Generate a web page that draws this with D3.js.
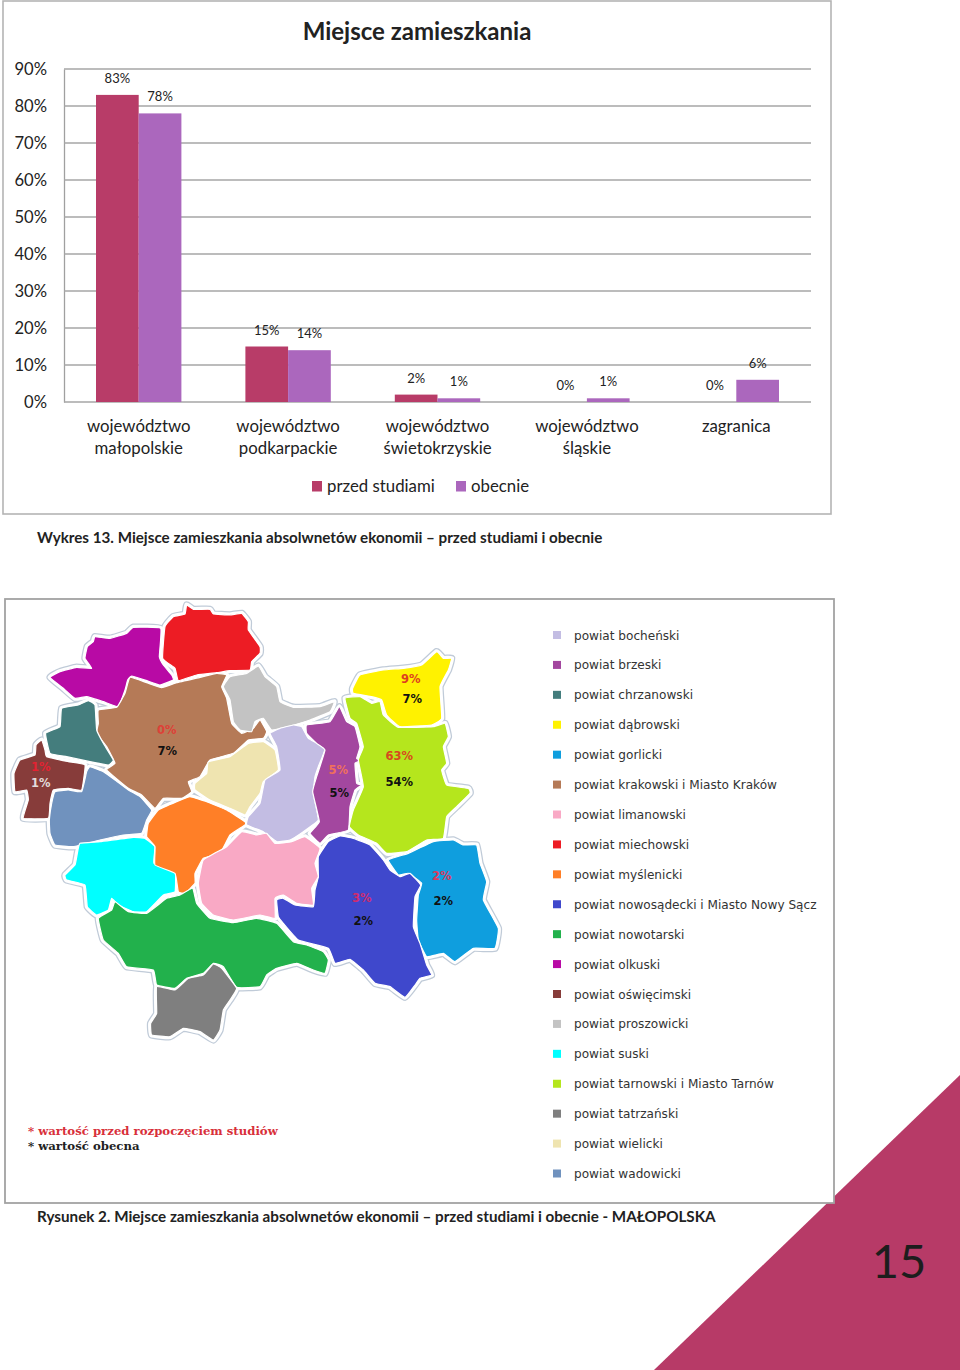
<!DOCTYPE html>
<html>
<head>
<meta charset="utf-8">
<script src="https://cdnjs.cloudflare.com/ajax/libs/d3/7.8.5/d3.min.js"></script>
<style>
  html, body { margin: 0; padding: 0; background: #fff; }
  svg { display: block; }
  text { font-family: Lato, sans-serif; fill: #222; }
</style>
</head>
<body>
<svg id="page" width="960" height="1370"></svg>
<script>
// bar chart
const categories = [["województwo", "małopolskie"], ["województwo", "podkarpackie"], ["województwo", "świetokrzyskie"], ["województwo", "śląskie"], ["zagranica"]];
const seriesNames = ["przed studiami", "obecnie"];
const przedStudiami = [83, 15, 2, 0, 0];
const obecnie = [78, 14, 1, 1, 6];
const yTicks = [0, 10, 20, 30, 40, 50, 60, 70, 80, 90];

// map legend + values
const powiaty = ["bocheński", "brzeski", "chrzanowski", "dąbrowski", "gorlicki", "krakowski i Miasto Kraków", "limanowski", "miechowski", "myślenicki", "nowosądecki i Miasto Nowy Sącz", "nowotarski", "olkuski", "oświęcimski", "proszowicki", "suski", "tarnowski i Miasto Tarnów", "tatrzański", "wielicki", "wadowicki"];
const mapPowiaty = ["krakowski i Miasto Kraków", "dąbrowski", "tarnowski i Miasto Tarnów", "brzeski", "oświęcimski", "gorlicki", "nowosądecki i Miasto Nowy Sącz"];
const mapPrzed = [0, 9, 63, 5, 1, 2, 3];
const mapObecnie = [7, 7, 54, 5, 1, 2, 2];

// outlines, in map units
const outlines = {
  "miechowski": [[560,45],[580,58],[630,58],[640,72],[690,75],[725,70],[745,95],[745,120],[780,170],[780,190],[755,215],[750,240],[690,242],[650,248],[590,255],[535,272],[525,235],[488,205],[495,110],[520,80],[555,72]],
  "olkuski": [[285,140],[330,145],[380,130],[400,112],[482,115],[478,200],[490,225],[515,255],[520,270],[480,285],[440,272],[395,258],[383,270],[375,300],[355,350],[310,335],[260,320],[225,325],[190,295],[150,262],[180,245],[230,232],[275,235],[255,205],[262,170],[280,155]],
  "krakowski i Miasto Kraków": [[390,262],[440,278],[485,293],[530,278],[600,262],[650,250],[680,255],[665,290],[680,325],[695,400],[725,430],[760,415],[780,390],[800,425],[790,445],[745,450],[700,490],[630,510],[600,560],[565,575],[575,605],[545,625],[490,625],[465,655],[425,615],[385,595],[320,540],[345,520],[320,470],[290,430],[295,400],[295,360],[350,352],[375,310]],
  "proszowicki": [[775,228],[795,260],[830,290],[840,335],[880,352],[960,350],[1003,335],[990,365],[930,390],[870,408],[815,420],[790,385],[765,395],[755,425],[720,420],[700,395],[690,330],[670,290],[690,260],[740,250]],
  "chrzanowski": [[265,332],[285,345],[290,420],[310,460],[340,510],[325,525],[270,515],[200,500],[150,490],[137,430],[180,410],[185,355],[235,345]],
  "oświęcimski": [[125,450],[135,480],[140,500],[205,515],[255,525],[245,600],[205,595],[160,600],[150,640],[145,685],[70,685],[85,630],[80,600],[45,605],[42,550],[60,510],[105,495],[108,465]],
  "wadowicki": [[270,530],[310,545],[345,570],[385,600],[420,620],[455,660],[440,690],[425,730],[370,735],[300,750],[220,770],[165,765],[150,730],[148,690],[155,640],[165,605],[205,600],[245,605],[260,545]],
  "suski": [[240,760],[300,755],[400,742],[435,745],[465,770],[462,820],[525,840],[525,905],[490,915],[440,965],[400,965],[355,945],[335,925],[325,960],[290,975],[262,950],[255,885],[200,870],[195,855],[225,825],[232,790]],
  "myślenicki": [[570,620],[620,635],[680,660],[735,695],[735,705],[690,735],[660,790],[610,805],[585,850],[585,880],[555,910],[535,905],[525,850],[465,825],[465,770],[440,740],[445,700],[475,660],[530,635]],
  "wielicki": [[790,455],[825,480],[835,540],[790,575],[780,610],[750,650],[735,675],[690,655],[630,630],[585,600],[585,580],[620,550],[625,515],[690,500],[745,460]],
  "bocheński": [[880,405],[905,410],[925,445],[975,475],[955,530],[945,560],[940,610],[955,690],[910,725],[870,750],[830,755],[790,725],[740,705],[745,680],[780,640],[795,570],[840,540],[830,470],[810,430],[840,415]],
  "brzeski": [[1018,350],[1040,395],[1065,410],[1080,470],[1070,505],[1085,512],[1065,520],[1070,580],[1085,585],[1065,600],[1050,650],[1045,720],[985,735],[960,760],[930,730],[958,695],[938,605],[950,560],[975,480],[950,460],[920,430],[920,405],[990,395]],
  "tarnowski i Miasto Tarnów": [[1035,325],[1080,320],[1115,340],[1140,335],[1150,375],[1195,412],[1300,410],[1335,400],[1345,440],[1330,470],[1340,520],[1325,540],[1340,585],[1405,595],[1410,610],[1370,650],[1340,680],[1330,745],[1280,750],[1220,785],[1160,790],[1130,760],[1075,735],[1048,710],[1060,660],[1090,590],[1075,510],[1090,470],[1070,400],[1050,385]],
  "dąbrowski": [[1310,185],[1330,205],[1355,205],[1345,240],[1320,290],[1325,385],[1295,405],[1200,410],[1160,375],[1145,330],[1115,320],[1060,310],[1058,295],[1080,255],[1150,240],[1210,235],[1265,225]],
  "gorlicki": [[1360,750],[1390,765],[1430,765],[1440,820],[1460,875],[1450,930],[1495,1015],[1485,1075],[1420,1075],[1365,1115],[1330,1090],[1280,1100],[1255,1050],[1250,990],[1255,915],[1265,880],[1225,850],[1195,855],[1165,810],[1225,790],[1300,755]],
  "nowosądecki i Miasto Nowy Sącz": [[1020,738],[1060,745],[1110,765],[1150,810],[1170,840],[1200,860],[1230,850],[1262,885],[1245,920],[1240,1010],[1260,1060],[1280,1125],[1295,1155],[1260,1165],[1245,1185],[1215,1222],[1170,1190],[1125,1180],[1090,1140],[1050,1108],[1005,1120],[985,1075],[895,1050],[850,1000],[835,980],[830,930],[850,925],[885,945],[940,950],[945,900],[955,860],[955,800],[985,755]],
  "limanowski": [[725,725],[770,735],[800,730],[825,760],[875,755],[915,740],[960,775],[945,820],[955,860],[935,895],[940,945],[890,940],[850,915],[825,925],[825,985],[780,975],[700,990],[640,975],[605,940],[595,880],[610,810],[680,770]],
  "nowotarski": [[578,895],[590,940],[630,985],[700,998],[770,985],[830,1000],[880,1055],[920,1065],[970,1085],[985,1110],[975,1150],[940,1140],[890,1120],[830,1135],[800,1155],[780,1190],[710,1192],[670,1130],[640,1120],[610,1150],[560,1165],[525,1195],[470,1185],[460,1140],[380,1130],[355,1090],[310,1050],[295,985],[335,960],[345,935],[385,965],[440,970],[500,925],[540,915]],
  "tatrzański": [[640,1122],[665,1135],[710,1195],[690,1230],[670,1260],[660,1320],[640,1350],[600,1325],[550,1315],[510,1340],[455,1335],[452,1300],[470,1270],[470,1190],[525,1200],[565,1165],[610,1155]]
};

const svg = d3.select("#page");

// page decoration first, the map frame sits over its tip
svg.append("path").attr("d", "M654,1370L960,1075L960,1370Z").attr("fill", "#b73a67");
svg.append("text").attr("x", 899).attr("y", 1278).attr("text-anchor", "middle")
  .style("font-size", "47px").style("fill", "#1d1d1d").text("15");

// ---- chart ----
svg.append("rect").attr("x", 3).attr("y", 1).attr("width", 828).attr("height", 513)
  .attr("fill", "#fff").attr("stroke", "#b4b4b4").attr("stroke-width", 1.6);

const x0 = d3.scaleBand().domain(d3.range(categories.length)).range([64, 811]);
const x1 = d3.scaleBand().domain(seriesNames).range([0, 85.4]);
const y = d3.scaleLinear().domain([0, 90]).range([402, 69]);
const color = d3.scaleOrdinal().domain(seriesNames).range(["#b83c68", "#ab67bd"]);

svg.append("text").attr("x", 417).attr("y", 40).attr("text-anchor", "middle")
  .style("font-size", "24px").style("font-weight", 700).text("Miejsce zamieszkania");

const yAxis = d3.axisLeft(y).tickValues(yTicks).tickFormat(d => d + "%").tickSize(0).tickPadding(17);
const yG = svg.append("g").attr("transform", "translate(64,0)").call(yAxis);
yG.select(".domain").attr("stroke", "#a0a0a0").attr("stroke-width", 1.3);
yG.selectAll("text").style("font-size", "16.6px").style("fill", "#222");

svg.append("g").selectAll("line").data(yTicks).enter().append("line")
  .attr("x1", 64).attr("x2", 811)
  .attr("y1", d => y(d)).attr("y2", d => y(d))
  .attr("stroke", "#a6a6a6").attr("stroke-width", 1.4);

const seriesData = [przedStudiami, obecnie];
seriesNames.forEach(function(name, s) {
  const g = svg.append("g");
  const left = i => x0(i) + (x0.bandwidth() - 85.4) / 2 + x1(name);
  g.selectAll("rect").data(seriesData[s]).enter().append("rect")
    .attr("x", (d, i) => left(i))
    .attr("y", d => y(d))
    .attr("width", x1.bandwidth())
    .attr("height", d => y(0) - y(d))
    .attr("fill", color(name));
  g.selectAll("text").data(seriesData[s]).enter().append("text")
    .attr("x", (d, i) => left(i) + x1.bandwidth() / 2)
    .attr("y", d => y(d) - 16.5)
    .attr("dy", ".35em")
    .attr("text-anchor", "middle")
    .style("font-size", "13px")
    .text(d => d + "%");
});

const catG = svg.append("g").selectAll("text").data(categories).enter().append("text")
  .attr("text-anchor", "middle")
  .attr("transform", (d, i) => "translate(" + (x0(i) + x0.bandwidth() / 2) + ",431.5)")
  .style("font-size", "16.8px");
catG.selectAll("tspan").data(d => d).enter().append("tspan")
  .attr("x", 0).attr("y", (d, i) => i * 22).text(d => d);

const legend = svg.append("g").selectAll("g").data(seriesNames).enter().append("g")
  .attr("transform", (d, i) => "translate(" + [312, 456][i] + ",481)");
legend.append("rect").attr("width", 10).attr("height", 10.5).attr("fill", d => color(d));
legend.append("text").attr("x", 15).attr("y", 11).style("font-size", "16.8px").text(d => d);

const caption = (txt, yy) => svg.append("text").attr("x", 37).attr("y", yy)
  .style("font-size", "15.2px").style("font-weight", 700).text(txt);
caption("Wykres 13. Miejsce zamieszkania absolwnetów ekonomii – przed studiami i obecnie", 543);

// ---- map ----
svg.append("rect").attr("x", 5).attr("y", 599).attr("width", 829).attr("height", 604)
  .attr("fill", "#fff").attr("stroke", "#a2a2a2").attr("stroke-width", 1.8);
caption("Rysunek 2. Miejsce zamieszkania absolwnetów ekonomii – przed studiami i obecnie - MAŁOPOLSKA", 1222);

const mapColor = d3.scaleOrdinal().domain(powiaty).range(["#c3bde3", "#a3479f", "#447d7d", "#fff200", "#0f9ede", "#b57a57", "#f9a9c5", "#ed1c24", "#ff7f27", "#3f48cc", "#22b14c", "#b80aa5", "#873c3a", "#c3c3c3", "#00ffff", "#b5e61d", "#7f7f7f", "#efe4b0", "#7092be"]);
const mx = d3.scaleLinear().domain([0, 1560]).range([0, 520]);
const my = d3.scaleLinear().domain([0, 1410]).range([590, 1060]);
const outlinePath = d3.line().x(d => mx(d[0])).y(d => my(d[1])).curve(d3.curveCardinalClosed.tension(0.7));
const names = Object.keys(outlines);

const mapG = svg.append("g").attr("stroke-linejoin", "round");
// blue-grey rim, then white gutter, then the fills with a thin white edge
mapG.selectAll(".rim").data(names).enter().append("path").attr("class", "rim")
  .attr("d", d => outlinePath(outlines[d])).attr("fill", "#c0cbd8").attr("stroke", "#c0cbd8").attr("stroke-width", 7.5);
mapG.selectAll(".gutter").data(names).enter().append("path").attr("class", "gutter")
  .attr("d", d => outlinePath(outlines[d])).attr("fill", "#fff").attr("stroke", "#fff").attr("stroke-width", 5);
mapG.selectAll(".powiat").data(names).enter().append("path").attr("class", "powiat")
  .attr("d", d => outlinePath(outlines[d])).attr("fill", d => mapColor(d)).attr("stroke", "#fff").attr("stroke-width", 1.2);

// label spots on the map and text colours, same order as mapPowiaty
const labelSpots = [[[500, 420], [502, 484]], [[1232, 268], [1237, 327]], [[1198, 497], [1198, 576]], [[1015, 540], [1018, 610]], [[122, 530], [122, 580]], [[1325, 858], [1330, 932]], [[1085, 925], [1090, 992]]];
const topColors = ["#dd4137", "#dd3f1f", "#d8491d", "#f0705c", "#e42232", "#d93a5c", "#cf2c6f"];
const lowColors = ["#111", "#111", "#111", "#111", "#e3dcdc", "#111", "#111"];
const mapLabel = (vals, row, cols) => svg.append("g").selectAll("text").data(vals).enter().append("text")
  .attr("x", (d, i) => mx(labelSpots[i][row][0]))
  .attr("y", (d, i) => my(labelSpots[i][row][1]))
  .attr("dy", ".35em").attr("text-anchor", "middle")
  .style("font-family", "'DejaVu Sans', sans-serif").style("font-size", "11.5px").style("font-weight", 700)
  .style("fill", (d, i) => cols[i])
  .text(d => d + "%");
mapLabel(mapPrzed, 0, topColors);
mapLabel(mapObecnie, 1, lowColors);

// map legend
const rowY = d3.scalePoint().domain(powiaty).range([635, 1173.5]);
const mapLegend = svg.append("g").selectAll("g").data(powiaty).enter().append("g")
  .attr("transform", d => "translate(553," + rowY(d) + ")");
mapLegend.append("rect").attr("y", -4).attr("width", 8).attr("height", 8).attr("fill", d => mapColor(d));
mapLegend.append("text").attr("x", 21).attr("y", 4.5)
  .style("font-family", "'DejaVu Sans', sans-serif").style("font-size", "12.1px").style("fill", "#333")
  .text(d => "powiat " + d);

svg.append("text").attr("x", 28).attr("y", 1135)
  .style("font-family", "'DejaVu Serif', serif").style("font-size", "11.7px").style("font-weight", 700).style("fill", "#d8303a")
  .text("* wartość przed rozpoczęciem studiów");
svg.append("text").attr("x", 28).attr("y", 1150)
  .style("font-family", "'DejaVu Serif', serif").style("font-size", "11.7px").style("font-weight", 700).style("fill", "#222")
  .text("* wartość obecna");
</script>
</body>
</html>
